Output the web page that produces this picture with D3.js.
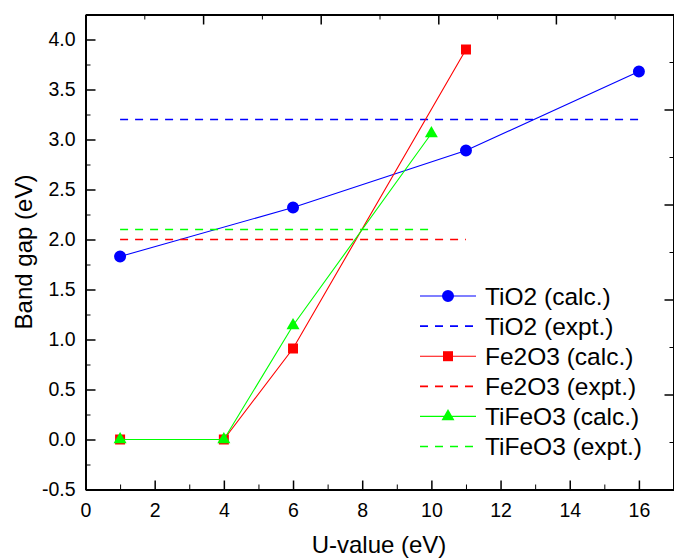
<!DOCTYPE html>
<meta charset="utf-8">
<style>
  body { margin: 0; background: #fff; }
  svg { font-family: "Liberation Sans", Arial, sans-serif; }
  .axis path, .axis line { stroke: #000; }
  .axis text { fill: #000; font-size: 19.5px; font-family: "Liberation Sans", Arial, sans-serif; }
</style>
<body>
<script src="https://d3js.org/d3.v7.min.js"></script>
<script>

// U-value (eV) and band gap (eV) for each compound
var uTiO2 = [1, 6, 11, 16];
var gapTiO2 = [1.83, 2.32, 2.89, 3.68];

var uFe2O3 = [1, 4, 6, 11];
var gapFe2O3 = [0, 0, 0.91, 3.90];

var uTiFeO3 = [1, 4, 6, 10];
var gapTiFeO3 = [0, 0, 1.14, 3.06];

// experimental gaps, drawn as dashed lines over the calc. U range
var exptGap = [3.2, 2.0, 2.1];
var exptRange = [[1, 16], [1, 11], [1, 10]];

var seriesNames = ["TiO2 (calc.)", "TiO2 (expt.)", "Fe2O3 (calc.)", "Fe2O3 (expt.)", "TiFeO3 (calc.)", "TiFeO3 (expt.)"];

var xTicks = [0, 2, 4, 6, 8, 10, 12, 14, 16];
var yTicks = [-0.5, 0, 0.5, 1, 1.5, 2, 2.5, 3, 3.5, 4];

var width = 674, height = 559;
var pL = 85.5, pR = 673.5, pT = 14.5, pB = 489.5;

var svg = d3.select("body").append("svg")
    .attr("width", width)
    .attr("height", height);

var x = d3.scaleLinear().domain([0, 17]).range([pL, pR]);
var y = d3.scaleLinear().domain([-0.5, 4.25]).range([pB, pT]);

// top and right axes only carry ticks (0..10 layer, no labels)
var x2 = d3.scaleLinear().domain([0, 10]).range([pL, pR]);
var y2 = d3.scaleLinear().domain([0, 10]).range([pB, pT]);

function noDomain(g) { g.select(".domain").remove(); }
function styleMajor(g) {
  g.selectAll(".tick line").attr("stroke-width", 1.5);
  g.select(".domain").attr("stroke-width", 2);
}
// plain hyphen for negatives, like the original
var fmtY = function(d) { return d3.format(".1f")(d).replace("\u2212", "-"); };

// minor ticks first
svg.append("g").attr("class", "axis")
    .attr("transform", "translate(0," + pB + ")")
    .call(d3.axisBottom(x).tickValues(d3.range(1, 17, 2)).tickFormat("").tickSizeInner(-5).tickSizeOuter(0))
    .call(noDomain);
svg.append("g").attr("class", "axis")
    .attr("transform", "translate(" + pL + ",0)")
    .call(d3.axisLeft(y).tickValues(d3.range(-0.25, 4.25, 0.5)).tickFormat("").tickSizeInner(-5).tickSizeOuter(0))
    .call(noDomain);
svg.append("g").attr("class", "axis")
    .attr("transform", "translate(0," + pT + ")")
    .call(d3.axisTop(x2).tickValues([1, 3, 5, 7, 9]).tickFormat("").tickSizeInner(-5).tickSizeOuter(0))
    .call(noDomain);
svg.append("g").attr("class", "axis")
    .attr("transform", "translate(" + pR + ",0)")
    .call(d3.axisRight(y2).tickValues([1, 3, 5, 7, 9]).tickFormat("").tickSizeInner(-4).tickSizeOuter(0))
    .call(noDomain);

// major ticks + labels
svg.append("g").attr("class", "axis")
    .attr("transform", "translate(0," + pB + ")")
    .call(d3.axisBottom(x).tickValues(xTicks).tickFormat(d3.format("d")).tickSizeInner(-9).tickSizeOuter(0).tickPadding(14))
    .call(styleMajor);

svg.append("g").attr("class", "axis")
    .attr("transform", "translate(" + pL + ",0)")
    .call(d3.axisLeft(y).tickValues(yTicks).tickFormat(fmtY).tickSizeInner(-10).tickSizeOuter(0).tickPadding(10))
    .call(styleMajor);

svg.append("g").attr("class", "axis")
    .attr("transform", "translate(0," + pT + ")")
    .call(d3.axisTop(x2).tickValues([0, 2, 4, 6, 8, 10]).tickFormat("").tickSizeInner(-10).tickSizeOuter(0))
    .call(styleMajor);

svg.append("g").attr("class", "axis")
    .attr("transform", "translate(" + pR + ",0)")
    .call(d3.axisRight(y2).tickValues([0, 2, 4, 6, 8, 10]).tickFormat("").tickSizeInner(-9).tickSizeOuter(0))
    .call(styleMajor);

// axis titles
svg.append("text")
    .attr("x", 379)
    .attr("y", 553)
    .attr("text-anchor", "middle")
    .style("font-size", "24px")
    .text("U-value (eV)");

svg.append("text")
    .attr("transform", "translate(32," + ((pT + pB) / 2) + ") rotate(-90)")
    .attr("text-anchor", "middle")
    .style("font-size", "24px")
    .text("Band gap (eV)");

var colors = ["#0000ff", "#ff0000", "#00ff00"];
var shapes = [d3.symbolCircle, d3.symbolSquare, d3.symbolTriangle];
var sizes = [113, 100, 73];
var calc = [
  {u: uTiO2, g: gapTiO2},
  {u: uFe2O3, g: gapFe2O3},
  {u: uTiFeO3, g: gapTiFeO3}
];

var line = d3.line()
    .x(function(d) { return x(d[0]); })
    .y(function(d) { return y(d[1]); });

calc.forEach(function(s, i) {
  var pts = s.u.map(function(u, j) { return [u, s.g[j]]; });

  svg.append("path")
      .datum(pts)
      .attr("fill", "none")
      .attr("stroke", colors[i])
      .attr("stroke-width", 1.1)
      .attr("d", line);

  svg.selectAll(".pt" + i)
      .data(pts)
    .enter().append("path")
      .attr("class", "pt" + i)
      .attr("transform", function(d) { return "translate(" + x(d[0]) + "," + y(d[1]) + ")"; })
      .attr("d", d3.symbol().type(shapes[i]).size(sizes[i]))
      .attr("fill", colors[i]);

  svg.append("path")
      .datum([[exptRange[i][0], exptGap[i]], [exptRange[i][1], exptGap[i]]])
      .attr("fill", "none")
      .attr("stroke", colors[i])
      .attr("stroke-width", 1.7)
      .attr("stroke-dasharray", "8,7")
      .attr("d", line);
});

// legend
var legend = svg.append("g").attr("transform", "translate(420,296)");
seriesNames.forEach(function(name, k) {
  var i = Math.floor(k / 2), dashed = k % 2 === 1;
  var row = legend.append("g").attr("transform", "translate(0," + (k * 30.1) + ")");
  row.append("line")
      .attr("x1", 0).attr("x2", 56)
      .attr("stroke", colors[i])
      .attr("stroke-width", dashed ? 1.7 : 1.1)
      .attr("stroke-dasharray", dashed ? "8,7" : null);
  if (!dashed) {
    row.append("path")
        .attr("transform", "translate(28,0)")
        .attr("d", d3.symbol().type(shapes[i]).size(sizes[i]))
        .attr("fill", colors[i]);
  }
  row.append("text")
      .attr("x", 65)
      .attr("dy", "0.35em")
      .style("font-size", "24.5px")
      .text(name);
});

</script>
</body>
